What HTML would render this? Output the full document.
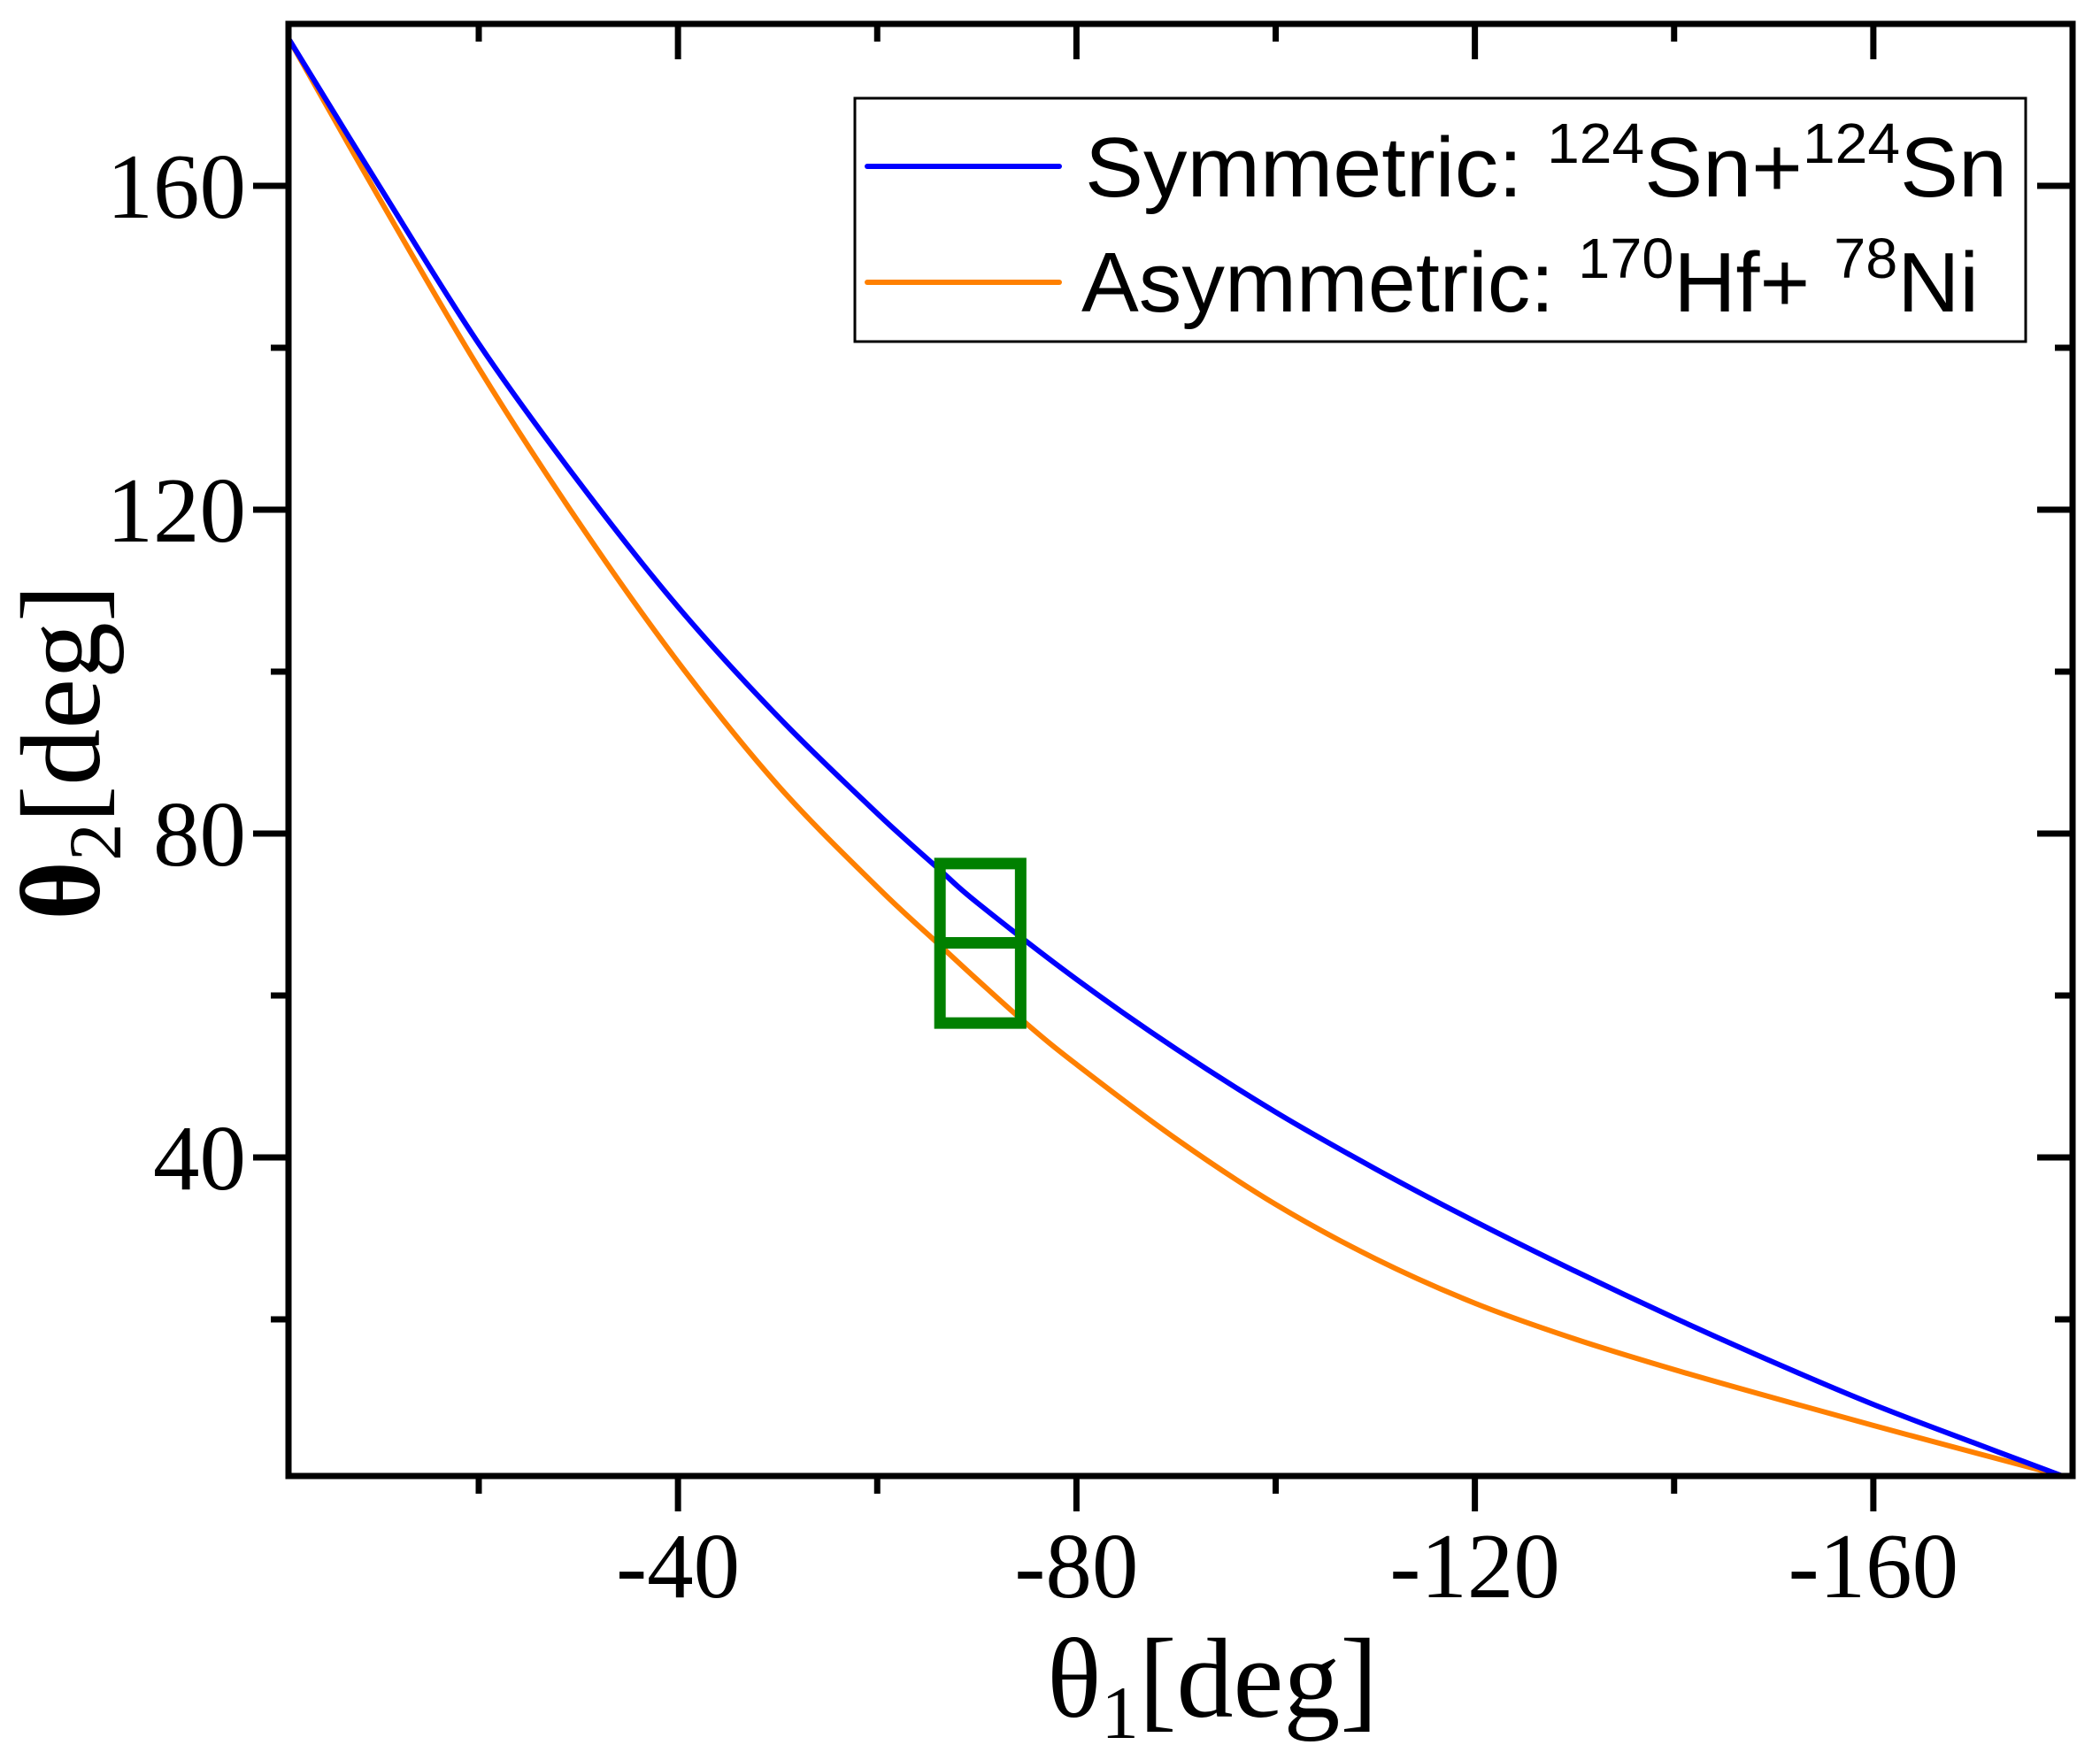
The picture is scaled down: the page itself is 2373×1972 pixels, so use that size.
<!DOCTYPE html>
<html>
<head>
<meta charset="utf-8">
<style>
html,body{margin:0;padding:0;background:#fff;}
svg{display:block;}
</style>
</head>
<body>
<svg id="chart" width="2373" height="1972" viewBox="0 0 2373 1972" xmlns="http://www.w3.org/2000/svg">
  <rect x="0" y="0" width="2373" height="1972" fill="#fff"/>
  <g id="ticks"></g>
  <g id="series"></g>
  <g id="boxes"></g>
  <rect x="326" y="27" width="2016" height="1641" fill="none" stroke="#000" stroke-width="7"/>
  <g id="ticklabels" font-family="Liberation Serif, serif" font-size="105" fill="#000"></g>
  <text x="1370" y="1940" text-anchor="middle" font-family="Liberation Serif, serif" font-size="128" fill="#000">θ<tspan font-size="85" dy="24">1</tspan><tspan dy="-24">[deg]</tspan></text>
  <text transform="translate(112,850) rotate(-90)" text-anchor="middle" font-family="Liberation Serif, serif" font-size="128" fill="#000"><tspan font-weight="bold">θ</tspan><tspan font-size="85" dy="24">2</tspan><tspan dy="-24">[deg]</tspan></text>
  <g>
    <rect x="966" y="111" width="1323" height="275" fill="#fff" stroke="#000" stroke-width="3"/>
    <line x1="980" y1="188" x2="1197" y2="188" stroke="#0000ff" stroke-width="6" stroke-linecap="round"/>
    <line x1="980" y1="319" x2="1197" y2="319" stroke="#ff8000" stroke-width="6" stroke-linecap="round"/>
    <text x="1226" y="222" font-family="Liberation Sans, sans-serif" font-size="96" fill="#000" textLength="1042" lengthAdjust="spacingAndGlyphs">Symmetric:  <tspan font-size="64" dy="-38">124</tspan><tspan dy="38">Sn+</tspan><tspan font-size="64" dy="-38">124</tspan><tspan dy="38">Sn</tspan></text>
    <text x="1222" y="352" font-family="Liberation Sans, sans-serif" font-size="96" fill="#000" textLength="1014" lengthAdjust="spacingAndGlyphs">Asymmetric: <tspan font-size="64" dy="-38">170</tspan><tspan dy="38">Hf+ </tspan><tspan font-size="64" dy="-38">78</tspan><tspan dy="38">Ni</tspan></text>
  </g>
</svg>
<script>
// data
const symX = [-1, -10, -20, -30, -40, -50, -60, -66.3, -70, -80, -90, -100, -110, -120, -130, -140, -150, -160, -170, -178.9];
const symY = [178, 160, 140.5, 123.5, 108, 94.5, 82.5, 75.5, 71.5, 62, 53.4, 45.6, 38.6, 32.1, 26, 20.2, 14.7, 9.5, 4.8, 0.7];
const asymX = [-1, -10, -20, -30, -40, -50, -60, -66.3, -70, -75, -80, -90, -100, -110, -120, -130, -140, -150, -160, -170, -178.9];
const asymY = [178, 158.5, 137.5, 118.5, 101.2, 86, 73.4, 66.2, 62, 56.5, 51.5, 42.3, 34.2, 27.5, 22, 17.6, 13.8, 10.3, 6.9, 3.6, 0.7];
const xMajor = [-40, -80, -120, -160];
const xMinor = [-20, -60, -100, -140];
const xTickLabels = ["-40", "-80", "-120", "-160"];
const yMajor = [40, 80, 120, 160];
const yMinor = [20, 60, 100, 140];
const yTickLabels = ["40", "80", "120", "160"];
const boxX = [-66.3, -74.4];
const boxY = [56.6, 66.5, 76.3];

// axes
const X0 = 326, X1 = 2342, Y0 = 1668, Y1 = 27;
const xMin = -0.9, xMax = -180, yMin = 0.66, yMax = 180;
function sx(v){ return X0 + (v - xMin) / (xMax - xMin) * (X1 - X0); }
function sy(v){ return Y0 - (v - yMin) / (yMax - yMin) * (Y0 - Y1); }

const NS = "http://www.w3.org/2000/svg";
function mk(tag, attrs, parent){
  const e = document.createElementNS(NS, tag);
  for (const k in attrs) e.setAttribute(k, attrs[k]);
  parent.appendChild(e);
  return e;
}

const tg = document.getElementById('ticks');
function tick(x1,y1,x2,y2,name){
  const l = mk('line',{x1:x1,y1:y1,x2:x2,y2:y2,stroke:'#000','stroke-width':7},tg);
  
  
}
xMajor.forEach(v=>{ const x=sx(v); tick(x,Y0,x,Y0+40,'x-major-tick'); tick(x,Y1,x,Y1+40,'x-top-tick'); });
xMinor.forEach(v=>{ const x=sx(v); tick(x,Y0,x,Y0+20,'x-minor-tick'); tick(x,Y1,x,Y1+20,'x-top-minor-tick'); });
yMajor.forEach(v=>{ const y=sy(v); tick(X0-40,y,X0,y,'y-major-tick'); tick(X1-40,y,X1,y,'y-right-tick'); });
yMinor.forEach(v=>{ const y=sy(v); tick(X0-20,y,X0,y,'y-minor-tick'); tick(X1-20,y,X1,y,'y-right-minor-tick'); });

const tl = document.getElementById('ticklabels');
xMajor.forEach((v,i)=>{
  const t = mk('text',{x:sx(v),y:1805,'text-anchor':'middle'},tl);
  t.textContent = xTickLabels[i];
  
  
});
yMajor.forEach((v,i)=>{
  const t = mk('text',{x:278,y:sy(v)+36,'text-anchor':'end'},tl);
  t.textContent = yTickLabels[i];
  
  
});

function smoothPath(xs, ys){
  const p = xs.map((x,i)=>[sx(x), sy(ys[i])]);
  let d = 'M' + p[0][0] + ',' + p[0][1];
  for (let i=0;i<p.length-1;i++){
    const p0=p[Math.max(0,i-1)], p1=p[i], p2=p[i+1], p3=p[Math.min(p.length-1,i+2)];
    const c1x=p1[0]+(p2[0]-p0[0])/6, c1y=p1[1]+(p2[1]-p0[1])/6;
    const c2x=p2[0]-(p3[0]-p1[0])/6, c2y=p2[1]-(p3[1]-p1[1])/6;
    d += ' C'+c1x+','+c1y+' '+c2x+','+c2y+' '+p2[0]+','+p2[1];
  }
  return d;
}
const sg = document.getElementById('series');
const pa = mk('path',{d:smoothPath(asymX,asymY),fill:'none',stroke:'#ff8000','stroke-width':6},sg);


const pb = mk('path',{d:smoothPath(symX,symY),fill:'none',stroke:'#0000ff','stroke-width':6},sg);



const bg = document.getElementById('boxes');
const br = mk('rect',{x:sx(boxX[0]),y:sy(boxY[2]),width:sx(boxX[1])-sx(boxX[0]),height:sy(boxY[0])-sy(boxY[2]),fill:'none',stroke:'#008000','stroke-width':13},bg);


const bl = mk('line',{x1:sx(boxX[0]),y1:sy(boxY[1]),x2:sx(boxX[1]),y2:sy(boxY[1]),stroke:'#008000','stroke-width':13},bg);


</script>
</body>
</html>
